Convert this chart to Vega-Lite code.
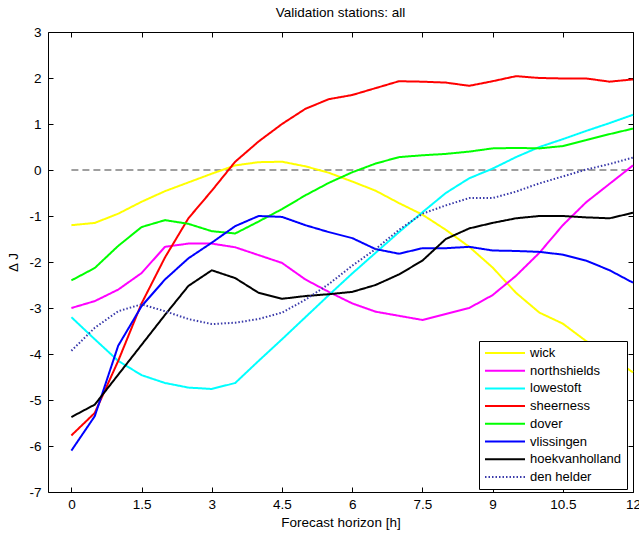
{
  "$schema": "https://vega.github.io/schema/vega-lite/v6.json",
  "width": 585,
  "height": 460,
  "autosize": {"type": "none"},
  "padding": {"left": 48, "top": 32, "right": 6, "bottom": 43},
  "background": "white",
  "title": {"text": "Validation stations: all", "fontSize": 13.5, "fontWeight": "normal", "font": "Liberation Sans", "color": "#000", "offset": 6},
  "config": {
    "view": {"stroke": "#000", "strokeWidth": 1},
    "font": "Liberation Sans",
    "axis": {"labelFont": "Liberation Sans", "labelFontSize": 13.5, "labelColor": "#000", "tickColor": "#000", "tickSize": -5, "domain": false, "grid": false, "titleFont": "Liberation Sans", "titleFontSize": 13.5, "titleFontWeight": "normal", "titleColor": "#000", "labelFlush": false, "labelOverlap": false}
  },
  "datasets": {
    "zero": [{"t": 0, "v": 0}, {"t": 12, "v": 0}],
    "series": [
      {"station":"wick","t":0,"dj":-1.2},{"station":"wick","t":0.5,"dj":-1.15},{"station":"wick","t":1,"dj":-0.95},{"station":"wick","t":1.5,"dj":-0.69},{"station":"wick","t":2,"dj":-0.46},{"station":"wick","t":2.5,"dj":-0.27},{"station":"wick","t":3,"dj":-0.08},{"station":"wick","t":3.5,"dj":0.1},{"station":"wick","t":4,"dj":0.17},{"station":"wick","t":4.5,"dj":0.18},{"station":"wick","t":5,"dj":0.08},{"station":"wick","t":5.5,"dj":-0.06},{"station":"wick","t":6,"dj":-0.25},{"station":"wick","t":6.5,"dj":-0.45},{"station":"wick","t":7,"dj":-0.72},{"station":"wick","t":7.5,"dj":-0.97},{"station":"wick","t":8,"dj":-1.3},{"station":"wick","t":8.5,"dj":-1.67},{"station":"wick","t":9,"dj":-2.12},{"station":"wick","t":9.5,"dj":-2.67},{"station":"wick","t":10,"dj":-3.1},{"station":"wick","t":10.5,"dj":-3.34},{"station":"wick","t":11,"dj":-3.72},{"station":"wick","t":11.5,"dj":-4.05},{"station":"wick","t":12,"dj":-4.4},
      {"station":"northshields","t":0,"dj":-3.0},{"station":"northshields","t":0.5,"dj":-2.85},{"station":"northshields","t":1,"dj":-2.6},{"station":"northshields","t":1.5,"dj":-2.24},{"station":"northshields","t":2,"dj":-1.67},{"station":"northshields","t":2.5,"dj":-1.6},{"station":"northshields","t":3,"dj":-1.6},{"station":"northshields","t":3.5,"dj":-1.68},{"station":"northshields","t":4,"dj":-1.85},{"station":"northshields","t":4.5,"dj":-2.02},{"station":"northshields","t":5,"dj":-2.38},{"station":"northshields","t":5.5,"dj":-2.65},{"station":"northshields","t":6,"dj":-2.9},{"station":"northshields","t":6.5,"dj":-3.08},{"station":"northshields","t":7,"dj":-3.17},{"station":"northshields","t":7.5,"dj":-3.26},{"station":"northshields","t":8,"dj":-3.13},{"station":"northshields","t":8.5,"dj":-3.0},{"station":"northshields","t":9,"dj":-2.72},{"station":"northshields","t":9.5,"dj":-2.3},{"station":"northshields","t":10,"dj":-1.8},{"station":"northshields","t":10.5,"dj":-1.2},{"station":"northshields","t":11,"dj":-0.7},{"station":"northshields","t":11.5,"dj":-0.3},{"station":"northshields","t":12,"dj":0.1},
      {"station":"lowestoft","t":0,"dj":-3.2},{"station":"lowestoft","t":0.5,"dj":-3.68},{"station":"lowestoft","t":1,"dj":-4.15},{"station":"lowestoft","t":1.5,"dj":-4.46},{"station":"lowestoft","t":2,"dj":-4.63},{"station":"lowestoft","t":2.5,"dj":-4.73},{"station":"lowestoft","t":3,"dj":-4.76},{"station":"lowestoft","t":3.5,"dj":-4.63},{"station":"lowestoft","t":4,"dj":-4.15},{"station":"lowestoft","t":4.5,"dj":-3.68},{"station":"lowestoft","t":5,"dj":-3.2},{"station":"lowestoft","t":5.5,"dj":-2.72},{"station":"lowestoft","t":6,"dj":-2.25},{"station":"lowestoft","t":6.5,"dj":-1.8},{"station":"lowestoft","t":7,"dj":-1.35},{"station":"lowestoft","t":7.5,"dj":-0.92},{"station":"lowestoft","t":8,"dj":-0.5},{"station":"lowestoft","t":8.5,"dj":-0.18},{"station":"lowestoft","t":9,"dj":0.03},{"station":"lowestoft","t":9.5,"dj":0.28},{"station":"lowestoft","t":10,"dj":0.5},{"station":"lowestoft","t":10.5,"dj":0.67},{"station":"lowestoft","t":11,"dj":0.85},{"station":"lowestoft","t":11.5,"dj":1.02},{"station":"lowestoft","t":12,"dj":1.2},
      {"station":"sheerness","t":0,"dj":-5.77},{"station":"sheerness","t":0.5,"dj":-5.28},{"station":"sheerness","t":1,"dj":-4.15},{"station":"sheerness","t":1.5,"dj":-2.9},{"station":"sheerness","t":2,"dj":-1.9},{"station":"sheerness","t":2.5,"dj":-1.05},{"station":"sheerness","t":3,"dj":-0.45},{"station":"sheerness","t":3.5,"dj":0.18},{"station":"sheerness","t":4,"dj":0.62},{"station":"sheerness","t":4.5,"dj":1.0},{"station":"sheerness","t":5,"dj":1.33},{"station":"sheerness","t":5.5,"dj":1.54},{"station":"sheerness","t":6,"dj":1.63},{"station":"sheerness","t":6.5,"dj":1.78},{"station":"sheerness","t":7,"dj":1.93},{"station":"sheerness","t":7.5,"dj":1.92},{"station":"sheerness","t":8,"dj":1.9},{"station":"sheerness","t":8.5,"dj":1.83},{"station":"sheerness","t":9,"dj":1.93},{"station":"sheerness","t":9.5,"dj":2.04},{"station":"sheerness","t":10,"dj":2.0},{"station":"sheerness","t":10.5,"dj":1.99},{"station":"sheerness","t":11,"dj":1.99},{"station":"sheerness","t":11.5,"dj":1.92},{"station":"sheerness","t":12,"dj":1.97},
      {"station":"dover","t":0,"dj":-2.4},{"station":"dover","t":0.5,"dj":-2.13},{"station":"dover","t":1,"dj":-1.65},{"station":"dover","t":1.5,"dj":-1.24},{"station":"dover","t":2,"dj":-1.09},{"station":"dover","t":2.5,"dj":-1.17},{"station":"dover","t":3,"dj":-1.33},{"station":"dover","t":3.5,"dj":-1.38},{"station":"dover","t":4,"dj":-1.12},{"station":"dover","t":4.5,"dj":-0.85},{"station":"dover","t":5,"dj":-0.55},{"station":"dover","t":5.5,"dj":-0.28},{"station":"dover","t":6,"dj":-0.05},{"station":"dover","t":6.5,"dj":0.14},{"station":"dover","t":7,"dj":0.28},{"station":"dover","t":7.5,"dj":0.32},{"station":"dover","t":8,"dj":0.35},{"station":"dover","t":8.5,"dj":0.4},{"station":"dover","t":9,"dj":0.47},{"station":"dover","t":9.5,"dj":0.48},{"station":"dover","t":10,"dj":0.47},{"station":"dover","t":10.5,"dj":0.52},{"station":"dover","t":11,"dj":0.65},{"station":"dover","t":11.5,"dj":0.78},{"station":"dover","t":12,"dj":0.9},
      {"station":"vlissingen","t":0,"dj":-6.1},{"station":"vlissingen","t":0.5,"dj":-5.35},{"station":"vlissingen","t":1,"dj":-3.82},{"station":"vlissingen","t":1.5,"dj":-2.96},{"station":"vlissingen","t":2,"dj":-2.38},{"station":"vlissingen","t":2.5,"dj":-1.92},{"station":"vlissingen","t":3,"dj":-1.58},{"station":"vlissingen","t":3.5,"dj":-1.22},{"station":"vlissingen","t":4,"dj":-1.0},{"station":"vlissingen","t":4.5,"dj":-1.02},{"station":"vlissingen","t":5,"dj":-1.2},{"station":"vlissingen","t":5.5,"dj":-1.35},{"station":"vlissingen","t":6,"dj":-1.48},{"station":"vlissingen","t":6.5,"dj":-1.72},{"station":"vlissingen","t":7,"dj":-1.82},{"station":"vlissingen","t":7.5,"dj":-1.7},{"station":"vlissingen","t":8,"dj":-1.7},{"station":"vlissingen","t":8.5,"dj":-1.67},{"station":"vlissingen","t":9,"dj":-1.75},{"station":"vlissingen","t":9.5,"dj":-1.76},{"station":"vlissingen","t":10,"dj":-1.78},{"station":"vlissingen","t":10.5,"dj":-1.84},{"station":"vlissingen","t":11,"dj":-1.97},{"station":"vlissingen","t":11.5,"dj":-2.18},{"station":"vlissingen","t":12,"dj":-2.45},
      {"station":"hoekvanholland","t":0,"dj":-5.37},{"station":"hoekvanholland","t":0.5,"dj":-5.1},{"station":"hoekvanholland","t":1,"dj":-4.45},{"station":"hoekvanholland","t":1.5,"dj":-3.8},{"station":"hoekvanholland","t":2,"dj":-3.15},{"station":"hoekvanholland","t":2.5,"dj":-2.52},{"station":"hoekvanholland","t":3,"dj":-2.18},{"station":"hoekvanholland","t":3.5,"dj":-2.35},{"station":"hoekvanholland","t":4,"dj":-2.67},{"station":"hoekvanholland","t":4.5,"dj":-2.8},{"station":"hoekvanholland","t":5,"dj":-2.74},{"station":"hoekvanholland","t":5.5,"dj":-2.7},{"station":"hoekvanholland","t":6,"dj":-2.65},{"station":"hoekvanholland","t":6.5,"dj":-2.5},{"station":"hoekvanholland","t":7,"dj":-2.27},{"station":"hoekvanholland","t":7.5,"dj":-1.97},{"station":"hoekvanholland","t":8,"dj":-1.5},{"station":"hoekvanholland","t":8.5,"dj":-1.27},{"station":"hoekvanholland","t":9,"dj":-1.15},{"station":"hoekvanholland","t":9.5,"dj":-1.05},{"station":"hoekvanholland","t":10,"dj":-1.0},{"station":"hoekvanholland","t":10.5,"dj":-1.0},{"station":"hoekvanholland","t":11,"dj":-1.03},{"station":"hoekvanholland","t":11.5,"dj":-1.05},{"station":"hoekvanholland","t":12,"dj":-0.93},
      {"station":"den helder","t":0,"dj":-3.93},{"station":"den helder","t":0.5,"dj":-3.43},{"station":"den helder","t":1,"dj":-3.07},{"station":"den helder","t":1.5,"dj":-2.92},{"station":"den helder","t":2,"dj":-3.07},{"station":"den helder","t":2.5,"dj":-3.24},{"station":"den helder","t":3,"dj":-3.35},{"station":"den helder","t":3.5,"dj":-3.32},{"station":"den helder","t":4,"dj":-3.24},{"station":"den helder","t":4.5,"dj":-3.1},{"station":"den helder","t":5,"dj":-2.82},{"station":"den helder","t":5.5,"dj":-2.48},{"station":"den helder","t":6,"dj":-2.08},{"station":"den helder","t":6.5,"dj":-1.72},{"station":"den helder","t":7,"dj":-1.3},{"station":"den helder","t":7.5,"dj":-0.95},{"station":"den helder","t":8,"dj":-0.77},{"station":"den helder","t":8.5,"dj":-0.61},{"station":"den helder","t":9,"dj":-0.61},{"station":"den helder","t":9.5,"dj":-0.47},{"station":"den helder","t":10,"dj":-0.29},{"station":"den helder","t":10.5,"dj":-0.14},{"station":"den helder","t":11,"dj":0.01},{"station":"den helder","t":11.5,"dj":0.13},{"station":"den helder","t":12,"dj":0.27}
    ]
  },
  "layer": [
    {
      "data": {"name": "zero"},
      "mark": {"type": "line", "color": "#808080", "strokeDash": [7, 4], "strokeWidth": 1.5},
      "encoding": {
        "x": {"field": "t", "type": "quantitative", "scale": {"domain": [-0.5, 12], "nice": false, "zero": false},
              "axis": {"orient": "top", "labels": false, "title": null, "values": [0, 1.5, 3, 4.5, 6, 7.5, 9, 10.5, 12]}},
        "y": {"field": "v", "type": "quantitative", "scale": {"domain": [-7, 3], "nice": false, "zero": false},
              "axis": {"orient": "right", "labels": false, "title": null, "values": [-7, -6, -5, -4, -3, -2, -1, 0, 1, 2, 3]}}
      }
    },
    {
      "data": {"name": "series"},
      "mark": {"type": "line"},
      "encoding": {
        "x": {"field": "t", "type": "quantitative",
              "axis": {"orient": "bottom", "title": "Forecast horizon [h]", "values": [0, 1.5, 3, 4.5, 6, 7.5, 9, 10.5, 12], "labelExpr": "'' + datum.value", "labelPadding": 10, "titlePadding": 5}},
        "y": {"field": "dj", "type": "quantitative",
              "axis": {"orient": "left", "title": "Δ J", "values": [-7, -6, -5, -4, -3, -2, -1, 0, 1, 2, 3], "labelExpr": "'' + datum.value", "labelPadding": 12, "titlePadding": 8}},
        "color": {"field": "station", "type": "nominal",
                  "scale": {"domain": ["wick", "northshields", "lowestoft", "sheerness", "dover", "vlissingen", "hoekvanholland", "den helder"],
                            "range": ["#ffff00", "#ff00ff", "#00ffff", "#ff0000", "#00ff00", "#0000ff", "#000000", "#3a3aaa"]},
                  "legend": {"title": null, "orient": "none", "legendX": 431, "legendY": 309, "symbolType": "stroke", "symbolSize": 1600, "clipHeight": 14, "rowPadding": 3.7, "labelFontSize": 13, "labelFont": "Liberation Sans", "labelColor": "#000", "labelOffset": 4, "padding": 5, "strokeColor": "#000", "fillColor": "#fff", "cornerRadius": 0}},
        "strokeDash": {"field": "station", "type": "nominal",
                  "scale": {"domain": ["wick", "northshields", "lowestoft", "sheerness", "dover", "vlissingen", "hoekvanholland", "den helder"],
                            "range": [[1, 0], [1, 0], [1, 0], [1, 0], [1, 0], [1, 0], [1, 0], [1.5, 2]]},
                  "legend": {"title": null, "orient": "none", "legendX": 431, "legendY": 309, "symbolType": "stroke", "symbolSize": 1600, "clipHeight": 14, "rowPadding": 3.7, "labelFontSize": 13, "labelFont": "Liberation Sans", "labelColor": "#000", "labelOffset": 4, "padding": 5, "strokeColor": "#000", "fillColor": "#fff", "cornerRadius": 0}},
        "strokeWidth": {"field": "station", "type": "nominal",
                  "scale": {"domain": ["wick", "northshields", "lowestoft", "sheerness", "dover", "vlissingen", "hoekvanholland", "den helder"],
                            "range": [2, 2, 2, 2, 2, 2, 2, 1.6]},
                  "legend": {"title": null, "orient": "none", "legendX": 431, "legendY": 309, "symbolType": "stroke", "symbolSize": 1600, "clipHeight": 14, "rowPadding": 3.7, "labelFontSize": 13, "labelFont": "Liberation Sans", "labelColor": "#000", "labelOffset": 4, "padding": 5, "strokeColor": "#000", "fillColor": "#fff", "cornerRadius": 0}}
      }
    }
  ],
  "resolve": {"axis": {"x": "independent", "y": "independent"}}
}
